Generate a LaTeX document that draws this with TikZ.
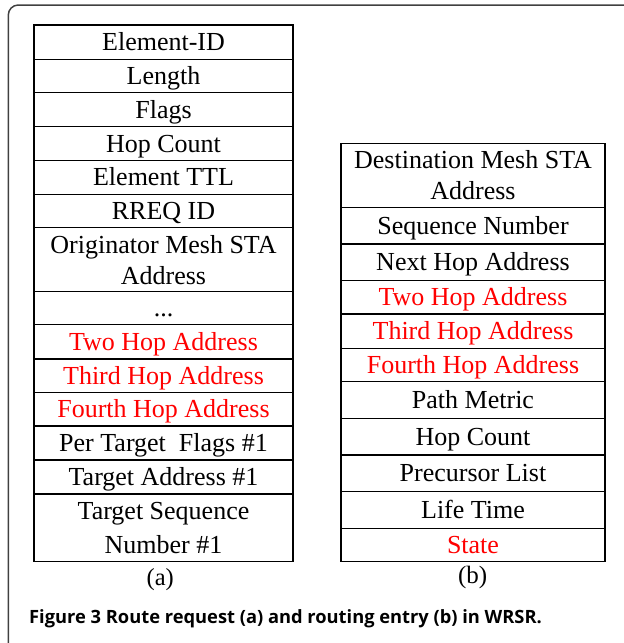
\documentclass[tikz,border=0pt]{standalone}
\usepackage{fontspec}
\setmainfont{Liberation Serif}
\newfontfamily\capfont{Open Sans}
\usepackage{tikz}

\begin{document}
\begin{tikzpicture}[x=1pt, y=-1pt,
	cell/.style={draw, line width=1.4pt, inner sep=0pt,
		font=\fontsize{26}{31}\selectfont},
	one/.style={text height=17pt, text depth=0pt},
	cella/.style={cell, minimum width=259pt},
	cellb/.style={cell, minimum width=264pt}]
	\newcommand\xa{163.5}
	\newcommand\xb{473}

	% 画外框
	\useasboundingbox (0, 0) rectangle (624, 643);
	\clip (0, 0) rectangle (624, 643);
	\draw[black!75, line width=1.5pt, rounded corners=10pt]
		(8.3, 700) -- (8.3, 5) -- (700, 5);

	% 左表: 路由请求 (a)
	\node[cella, one, minimum height=34.3pt] (a1) at (\xa, 42.15) {Element-ID};
	\node[cella, one, minimum height=33.4pt] (a2) at (\xa, 76) {Length};
	\node[cella, one, minimum height=34pt] (a3) at (\xa, 109.7) {Flags};
	\node[cella, one, minimum height=33.6pt] (a4) at (\xa, 143.5) {Hop Count};
	\node[cella, one, minimum height=34pt] (a5) at (\xa, 177.3) {Element TTL};
	\node[cella, one, minimum height=33.4pt] (a6) at (\xa, 211) {RREQ ID};
	\node[cella, align=center, minimum height=64pt] (a7) at (\xa, 259.7)
		{Originator Mesh STA\\Address};
	\node[cella, one, minimum height=32.6pt] (a8) at (\xa, 308) {...};
	\node[cella, one, red, draw=black, minimum height=34.7pt] (a9) at (\xa, 341.65) {Two Hop Address};
	\node[cella, one, red, draw=black, minimum height=33.7pt] (a10) at (\xa, 375.85) {Third Hop Address};
	\node[cella, one, red, draw=black, minimum height=33.3pt] (a11) at (\xa, 409.35) {Fourth Hop Address};
	\node[cella, one, minimum height=34pt] (a12) at (\xa, 443) {Per Target~~Flags \#1};
	\node[cella, one, minimum height=34pt] (a13) at (\xa, 477) {Target Address \#1};
	\node[cella, align=center, minimum height=67.7pt] (a14) at (\xa, 527.85)
		{Target Sequence\\[3pt]Number \#1};

	% 右表: 路由表项 (b)
	\node[cellb, align=center, minimum height=64pt] (b1) at (\xb, 175.3)
		{Destination Mesh STA\\Address};
	\node[cellb, one, minimum height=36.7pt] (b2) at (\xb, 225.65) {Sequence Number};
	\node[cellb, one, minimum height=36.7pt] (b3) at (\xb, 262.35) {Next Hop Address};
	\node[cellb, one, red, draw=black, minimum height=33.3pt] (b4) at (\xb, 297.35) {Two Hop Address};
	\node[cellb, one, red, draw=black, minimum height=34.3pt] (b5) at (\xb, 331.15) {Third Hop Address};
	\node[cellb, one, red, draw=black, minimum height=33.4pt] (b6) at (\xb, 365) {Fourth Hop Address};
	\node[cellb, one, minimum height=36.6pt] (b7) at (\xb, 400) {Path Metric};
	\node[cellb, one, minimum height=36.7pt] (b8) at (\xb, 436.65) {Hop Count};
	\node[cellb, one, minimum height=36.7pt] (b9) at (\xb, 473.35) {Precursor List};
	\node[cellb, one, minimum height=36.6pt] (b10) at (\xb, 510) {Life Time};
	\node[cellb, one, red, draw=black, minimum height=33.4pt] (b11) at (\xb, 545) {State};

	% 子图标号
	\node[anchor=base, font=\fontsize{24.5}{29}\selectfont] (la) at (160.3, 585.5) {(a)};
	\node[anchor=base, font=\fontsize{25}{29}\selectfont] (lb) at (472.7, 583.5) {(b)};

	% 图题
	\node[anchor=base west, inner sep=0pt, font=\capfont\bfseries\fontsize{18.3}{21}\selectfont] (cap)
		at (29, 623.3) {Figure 3 Route request (a) and routing entry (b) in WRSR.};
\end{tikzpicture}
\end{document}
